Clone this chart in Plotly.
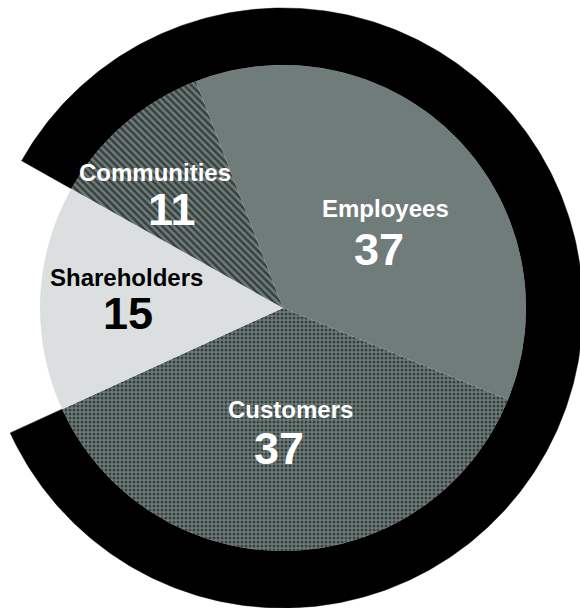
import numpy as np
import plotly.graph_objects as go

# Share of attention by stakeholder group
labels = ["Employees", "Customers", "Shareholders", "Communities"]
values = [37, 37, 15, 11]

# Styling per slice
fill_colors = ["#6f7c7a", "#6f7c7a", "#dcdfdf", "#6f7c7a"]
pattern_shapes = ["", ".", "", "\\"]
text_colors = ["white", "white", "black", "white"]
# the outer black band wraps every group except this one
band_gap = "Shareholders"

# Geometry (pixels)
W, H = 580, 608
CX, CY = 283, 308
R_PIE = 243
R_RING = 300
ROTATION = -21  # where the first slice starts, clockwise from 12 o'clock

# Label anchor points (pixel centres): name line and value line
name_pos = {
    "Employees": (385, 208),
    "Customers": (290, 409),
    "Shareholders": (126, 277),
    "Communities": (155, 172),
}
value_pos = {
    "Employees": (379, 249),
    "Customers": (279, 448),
    "Shareholders": (128, 313),
    "Communities": (172, 209),
}

total = float(sum(values))
fig = go.Figure()

# Outer band: an annular arc that skips the gap slice
gi = labels.index(band_gap)
start_gap = 90 - ROTATION - 360 * sum(values[:gi]) / total
end_gap = start_gap - 360 * values[gi] / total
span = 360 - 360 * values[gi] / total
theta = np.radians(np.linspace(end_gap, end_gap - span, 400))
xo = CX + R_RING * np.cos(theta)
yo = CY - R_RING * np.sin(theta)
xi = CX + R_PIE * np.cos(theta[::-1])
yi = CY - R_PIE * np.sin(theta[::-1])
fig.add_trace(go.Scatter(
    x=np.concatenate([xo, xi, xo[:1]]),
    y=np.concatenate([yo, yi, yo[:1]]),
    mode="lines", fill="toself", fillcolor="black",
    line=dict(color="black", width=0.5),
    hoverinfo="skip", showlegend=False,
))

# The pie itself
fig.add_trace(go.Pie(
    labels=labels, values=values, sort=False, direction="clockwise",
    rotation=ROTATION, textinfo="none", hoverinfo="label+value",
    showlegend=False,
    marker=dict(
        colors=fill_colors, line=dict(width=0),
        pattern=dict(shape=pattern_shapes, fgcolor="#36403e",
                     bgcolor=fill_colors, fillmode="replace",
                     size=[4, 4, 4, 5], solidity=[0.45, 0.45, 0.45, 0.5]),
    ),
    domain=dict(x=[(CX - R_PIE) / W, (CX + R_PIE) / W],
                y=[(H - CY - R_PIE) / H, (H - CY + R_PIE) / H]),
))

font_family = "Liberation Sans, Arial, Helvetica, sans-serif"
annotations = []
for lab, val, col in zip(labels, values, text_colors):
    nx, ny = name_pos[lab]
    vx, vy = value_pos[lab]
    annotations.append(dict(
        x=nx, y=ny, xref="x", yref="y", text=f"<b>{lab}</b>", showarrow=False,
        xanchor="center", yanchor="middle",
        font=dict(family=font_family, size=24, color=col)))
    annotations.append(dict(
        x=vx, y=vy, xref="x", yref="y", text=f"<b>{val}</b>", showarrow=False,
        xanchor="center", yanchor="middle",
        font=dict(family=font_family, size=45, color=col)))

fig.update_layout(
    width=W, height=H,
    margin=dict(l=0, r=0, t=0, b=0),
    paper_bgcolor="white", plot_bgcolor="white",
    xaxis=dict(range=[0, W], visible=False, fixedrange=True),
    yaxis=dict(range=[H, 0], visible=False, fixedrange=True),
    annotations=annotations,
)

fig.write_html("out.html")
